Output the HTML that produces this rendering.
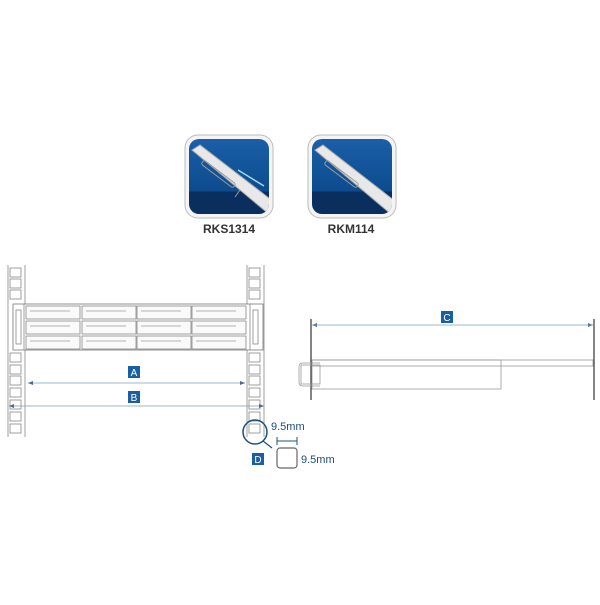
<!DOCTYPE html>
<html><head><style>
body{margin:0;background:#fff;width:600px;height:600px;overflow:hidden;font-family:"Liberation Sans",sans-serif}
</style></head><body>
<svg width="600" height="600" viewBox="0 0 600 600" xmlns="http://www.w3.org/2000/svg">
<defs>
<linearGradient id="bg" x1="0" y1="0" x2="0" y2="1"><stop offset="0" stop-color="#1a5fa8"/><stop offset="0.7" stop-color="#0d4b8e"/><stop offset="0.7" stop-color="#0a2f5e"/><stop offset="1" stop-color="#0a2f5e"/></linearGradient>
<clipPath id="c1"><rect x="189" y="139" width="80" height="75" rx="10"/></clipPath>
<clipPath id="c2"><rect x="312" y="139" width="80" height="75" rx="10"/></clipPath>
</defs>
<rect x="185" y="135" width="88" height="83" rx="13" fill="#f4f4f4" stroke="#bbb"/>
<rect x="189" y="139" width="80" height="75" rx="10" fill="url(#bg)"/>
<g clip-path="url(#c1)">
<polygon points="192,150 200,145 278,205 270,215" fill="#e8e8e8" stroke="#aaa"/>
<rect x="204" y="160" width="40" height="5" rx="2" transform="rotate(37 204 160)" fill="none" stroke="#999"/>
<line x1="240" y1="190" x2="235" y2="197" stroke="#999"/>
</g>
<line x1="238" y1="170" x2="264" y2="186" stroke="#9fd8f0" stroke-width="1.5"/>
<rect x="308" y="135" width="88" height="83" rx="13" fill="#f4f4f4" stroke="#bbb"/>
<rect x="312" y="139" width="80" height="75" rx="10" fill="url(#bg)"/>
<g clip-path="url(#c2)">
<polygon points="315,150 323,145 400,205 392,215" fill="#e8e8e8" stroke="#aaa"/>
<rect x="327" y="160" width="40" height="5" rx="2" transform="rotate(37 327 160)" fill="none" stroke="#999"/>
</g>
<text x="229" y="233" font-size="12" font-weight="bold" text-anchor="middle" fill="#333">RKS1314</text>
<text x="351" y="233" font-size="12" font-weight="bold" text-anchor="middle" fill="#333">RKM114</text>
<g stroke="#888" fill="none" stroke-width="0.8">
<line x1="8" y1="265" x2="8" y2="437"/><line x1="25" y1="265" x2="25" y2="437"/>
<line x1="247" y1="265" x2="247" y2="437"/><line x1="264" y1="265" x2="264" y2="437"/>
<rect x="10" y="268" width="11" height="9"/><rect x="10" y="279" width="11" height="9"/><rect x="10" y="290" width="11" height="9"/>
<rect x="10" y="353" width="11" height="9"/><rect x="10" y="365" width="11" height="9"/><rect x="10" y="376" width="11" height="9"/><rect x="10" y="388" width="11" height="9"/><rect x="10" y="400" width="11" height="9"/><rect x="10" y="412" width="11" height="9"/><rect x="10" y="424" width="11" height="9"/>
<rect x="249" y="268" width="11" height="9"/><rect x="249" y="279" width="11" height="9"/><rect x="249" y="290" width="11" height="9"/>
<rect x="249" y="353" width="11" height="9"/><rect x="249" y="365" width="11" height="9"/><rect x="249" y="376" width="11" height="9"/><rect x="249" y="388" width="11" height="9"/><rect x="249" y="400" width="11" height="9"/><rect x="249" y="412" width="11" height="9"/><rect x="249" y="424" width="11" height="9"/>
<rect x="13" y="304" width="250" height="46" fill="#fff" stroke="#777"/>
<line x1="24" y1="304" x2="24" y2="350"/><line x1="250" y1="304" x2="250" y2="350"/>
<rect x="16" y="310" width="5" height="34"/><rect x="253" y="310" width="5" height="34"/>
</g>
<g stroke="#888" fill="#fafafa" stroke-width="0.8">
<rect x="26" y="306" width="54" height="13"/><rect x="82" y="306" width="54" height="13"/><rect x="137" y="306" width="54" height="13"/><rect x="192" y="306" width="54" height="13"/>
<rect x="26" y="321" width="54" height="13"/><rect x="82" y="321" width="54" height="13"/><rect x="137" y="321" width="54" height="13"/><rect x="192" y="321" width="54" height="13"/>
<rect x="26" y="336" width="54" height="13"/><rect x="82" y="336" width="54" height="13"/><rect x="137" y="336" width="54" height="13"/><rect x="192" y="336" width="54" height="13"/>
</g>
<g stroke="#999" fill="none" stroke-width="0.8">
<path d="M30 311 H70 M86 311 H126 M141 311 H181 M196 311 H236 M30 326 H70 M86 326 H126 M141 326 H181 M196 326 H236 M30 341 H70 M86 341 H126 M141 341 H181 M196 341 H236"/>
</g>
<g stroke="#7a9cc0" stroke-width="0.8">
<line x1="28" y1="383" x2="245" y2="383"/><line x1="9" y1="406" x2="264" y2="406"/>
</g>
<g fill="#4a6a90">
<polygon points="28,383 33,381 33,385"/><polygon points="245,383 240,381 240,385"/>
<polygon points="9,406 14,404 14,408"/><polygon points="264,406 259,404 259,408"/>
<polygon points="312,325 317,323 317,327"/><polygon points="593,325 588,323 588,327"/>
</g>
<rect x="128" y="366" width="12" height="12" fill="#1a5fa0"/><text x="134" y="376" font-size="10" fill="#fff" text-anchor="middle">A</text>
<rect x="128" y="391" width="12" height="12" fill="#1a5fa0"/><text x="134" y="401" font-size="10" fill="#fff" text-anchor="middle">B</text>
<circle cx="255" cy="432" r="12" fill="none" stroke="#1a4f80" stroke-width="1.5"/>
<line x1="263" y1="441" x2="272" y2="448" stroke="#1a4f80" stroke-width="1.2"/>
<rect x="252" y="453" width="12" height="12" fill="#1a5fa0"/><text x="258" y="463" font-size="10" fill="#fff" text-anchor="middle">D</text>
<rect x="277" y="448" width="20" height="20" rx="3" fill="#fff" stroke="#666" stroke-width="1.2"/>
<g stroke="#1a4f80" stroke-width="1"><line x1="277" y1="441" x2="297" y2="441"/><line x1="277" y1="437" x2="277" y2="445"/><line x1="297" y1="437" x2="297" y2="445"/></g>
<text x="271" y="430" font-size="11" fill="#1a4f80">9.5mm</text>
<text x="301" y="463" font-size="11" fill="#1a4f80">9.5mm</text>
<line x1="311" y1="319" x2="311" y2="400" stroke="#333" stroke-width="1.2"/>
<line x1="594" y1="319" x2="594" y2="400" stroke="#333" stroke-width="1.2"/>
<line x1="312" y1="325" x2="593" y2="325" stroke="#7a9cc0" stroke-width="0.8"/>
<rect x="441" y="311" width="12" height="12" fill="#1a5fa0"/><text x="447" y="321" font-size="10" fill="#fff" text-anchor="middle">C</text>
<g stroke="#999" fill="none" stroke-width="0.8">
<rect x="312" y="360" width="281" height="6"/>
<rect x="312" y="360" width="189" height="29"/>
<path d="M320 363 H303 Q299 363 299 367 V382 Q299 386 303 386 H320"/>
<rect x="301" y="365" width="19" height="19"/>
</g>
</svg>
</body></html>
